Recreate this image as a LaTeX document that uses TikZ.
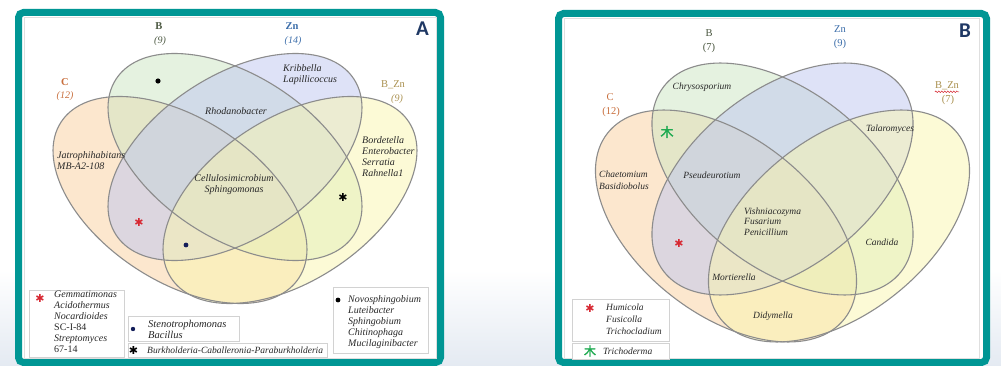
\documentclass[tikz,border=0pt]{standalone}
\usepackage{fontspec}
\setmainfont{Liberation Serif}
\newfontfamily\symf{DejaVu Sans}
\newfontfamily\lblf{Carlito}
\newfontfamily\cjkf{Noto Sans CJK SC}[FakeBold=2]
\usetikzlibrary{decorations.pathmorphing}
\definecolor{teal1}{RGB}{0,150,148}
\definecolor{navy1}{RGB}{31,56,100}
\definecolor{dotnavy}{RGB}{20,30,90}
\definecolor{cC}{RGB}{250,208,158}
\definecolor{cB}{RGB}{205,230,195}
\definecolor{cZn}{RGB}{190,198,240}
\definecolor{cBZn}{RGB}{250,246,175}
\definecolor{lC}{RGB}{200,110,60}
\definecolor{lB}{RGB}{75,88,65}
\definecolor{lZn}{RGB}{60,110,170}
\definecolor{lBZn}{RGB}{170,145,80}
\definecolor{vline}{RGB}{140,140,140}
\definecolor{txt}{RGB}{40,40,40}
\definecolor{astred}{RGB}{215,40,50}
\definecolor{trgreen}{RGB}{30,170,80}
\definecolor{bgblue}{RGB}{228,234,242}
\tikzset{
  sp/.style={font=\fontsize{10}{11}\selectfont\itshape, text=txt, inner sep=0pt, align=left},
  spb/.style={font=\fontsize{9.5}{12}\selectfont\itshape, text=txt, inner sep=0pt, align=left},
  hdr/.style={font=\fontsize{10.5}{12}\selectfont, inner sep=0pt},
  legbox/.style={draw=gray!35, fill=white, line width=0.7},
  panelbox/.style={draw=teal1, line width=7, rounded corners=5, fill=white},
  innerbox/.style={draw=gray!25, line width=0.8},
  astmark/.style={font=\symf\fontsize{11}{11}\selectfont, inner sep=0pt},
  vfill/.style={fill opacity=0.5},
  vdraw/.style={draw=vline, line width=1.1},
  plabel/.style={font=\lblf\bfseries\fontsize{21}{21}\selectfont, text=navy1, inner sep=0pt}
}
\begin{document}
\begin{tikzpicture}[x=1pt,y=-1pt]
\useasboundingbox (0,0) rectangle (1001,366);
\fill[white] (0,0) rectangle (1001,366);
\shade[top color=white, bottom color=bgblue] (0,270) rectangle (1001,366);
% panels
\path[panelbox] (18.5,12.5) rectangle (440.5,362.5);
\path[panelbox] (558.5,13.5) rectangle (986.5,362.5);
\draw[innerbox] (24,17.5) rectangle (436,358.5);
\draw[innerbox] (564,18.5) rectangle (979,358.5);
\node[plabel] (pA) at (422.5,28.5) {A};
\node[plabel] (pB) at (965,31) {B};

% ---------- Panel A Venn ----------
\fill[cC, vfill, rotate around={-33.3:(180,200)}] (180,200) ellipse [x radius=142.2, y radius=81.3];
\fill[cB, vfill, rotate around={-33.3:(235,157)}] (235,157) ellipse [x radius=142.2, y radius=81.3];
\fill[cZn, vfill, rotate around={33.3:(235,157)}] (235,157) ellipse [x radius=142.2, y radius=81.3];
\fill[cBZn, vfill, rotate around={33.3:(290,200)}] (290,200) ellipse [x radius=142.2, y radius=81.3];
\draw[vdraw, rotate around={-33.3:(180,200)}] (180,200) ellipse [x radius=142.2, y radius=81.3];
\draw[vdraw, rotate around={-33.3:(235,157)}] (235,157) ellipse [x radius=142.2, y radius=81.3];
\draw[vdraw, rotate around={33.3:(235,157)}] (235,157) ellipse [x radius=142.2, y radius=81.3];
\draw[vdraw, rotate around={33.3:(290,200)}] (290,200) ellipse [x radius=142.2, y radius=81.3];

% headers A
\node[hdr, text=lB, font=\fontsize{10.5}{12}\selectfont\bfseries] (aB) at (159,26) {B};
\node[hdr, text=lB, font=\fontsize{10}{12}\selectfont\itshape] (aBn) at (160,41) {(9)};
\node[hdr, text=lZn, font=\fontsize{10.5}{12}\selectfont\bfseries] (aZn) at (292,26) {Zn};
\node[hdr, text=lZn, font=\fontsize{10}{12}\selectfont\itshape] (aZnn) at (293,41) {(14)};
\node[hdr, text=lC, font=\fontsize{10.5}{12}\selectfont\bfseries] (aC) at (65,82) {C};
\node[hdr, text=lC, font=\fontsize{10}{12}\selectfont\itshape] (aCn) at (65,96) {(12)};
\node[hdr, text=lBZn] (aBZn) at (393,85) {B\_Zn};
\node[hdr, text=lBZn, font=\fontsize{10}{12}\selectfont\itshape] (aBZnn) at (397,99) {(9)};

% species A
\node[sp, anchor=north west] (kri) at (283,64.5) {Kribbella\\Lapillicoccus};
\node[sp] (rho) at (236,111) {Rhodanobacter};
\node[sp, anchor=north west] (jat) at (57,151.5) {Jatrophihabitans\\MB-A2-108};
\node[sp, align=center] (cel) at (234,185) {Cellulosimicrobium\\Sphingomonas};
\node[sp, anchor=north west, font=\fontsize{10}{10.8}\selectfont\itshape] (bor) at (362,136.5) {Bordetella\\Enterobacter\\Serratia\\Rahnella1};
\fill[black] (158,81) circle (2.6);
\node[astmark, text=astred] (ra1) at (139,222) {✱};
\fill[dotnavy] (186,245) circle (2.4);
\node[astmark, text=black] (ka1) at (343,197) {✱};

% legends A
\draw[legbox] (29,290) rectangle (124,357);
\node[astmark, text=astred] (ra2) at (40,298) {✱};
\node[sp, anchor=north west] (lg1) at (54,290.5) {Gemmatimonas\\Acidothermus\\Nocardioides\\\textup{SC-I-84}\\Streptomyces\\\textup{67-14}};
\draw[legbox] (128,316) rectangle (239,341);
\fill[dotnavy] (133,329) circle (2.2);
\node[sp, anchor=north west, font=\fontsize{10.5}{11}\selectfont\itshape] (lg2) at (148,320.5) {Stenotrophomonas\\Bacillus};
\draw[legbox] (128,343) rectangle (327,357);
\node[astmark, text=black] (ka2) at (133.5,350) {✱};
\node[sp, anchor=west, font=\fontsize{9.5}{11}\selectfont\itshape] (lg3) at (147,350) {Burkholderia-Caballeronia-Paraburkholderia};
\draw[legbox] (333,287) rectangle (428,353);
\fill[black] (338,300) circle (2.4);
\node[sp, anchor=north west] (lg4) at (348,295.5) {Novosphingobium\\Luteibacter\\Sphingobium\\Chitinophaga\\Mucilaginibacter};

% ---------- Panel B Venn ----------
\fill[cC, vfill, rotate around={-38:(726,226)}] (726,226) ellipse [x radius=150.5, y radius=88.5];
\fill[cB, vfill, rotate around={-38:(782.5,179)}] (782.5,179) ellipse [x radius=150.5, y radius=88.5];
\fill[cZn, vfill, rotate around={38:(782.5,179)}] (782.5,179) ellipse [x radius=150.5, y radius=88.5];
\fill[cBZn, vfill, rotate around={38:(839,226)}] (839,226) ellipse [x radius=150.5, y radius=88.5];
\draw[vdraw, rotate around={-38:(726,226)}] (726,226) ellipse [x radius=150.5, y radius=88.5];
\draw[vdraw, rotate around={-38:(782.5,179)}] (782.5,179) ellipse [x radius=150.5, y radius=88.5];
\draw[vdraw, rotate around={38:(782.5,179)}] (782.5,179) ellipse [x radius=150.5, y radius=88.5];
\draw[vdraw, rotate around={38:(839,226)}] (839,226) ellipse [x radius=150.5, y radius=88.5];

% headers B
\node[hdr, text=lB] (bB) at (709,33) {B};
\node[hdr, text=lB] (bBn) at (709,48) {(7)};
\node[hdr, text=lZn] (bZn) at (840,29) {Zn};
\node[hdr, text=lZn] (bZnn) at (840,44) {(9)};
\node[hdr, text=lC] (bC) at (610,97) {C};
\node[hdr, text=lC] (bCn) at (611,112) {(12)};
\node[hdr, text=lBZn] (bBZn) at (947,86) {B\_Zn};
\node[hdr, text=lBZn] (bBZnn) at (948,100) {(7)};
\draw[astred, line width=0.5, decorate, decoration={snake, amplitude=0.8, segment length=3}] ([yshift=-1.5]bBZn.south west) -- ([yshift=-1.5]bBZn.south east);

% species B
\node[spb] (chr) at (702,87) {Chrysosporium};
\node[spb] (tal) at (890,129) {Talaromyces};
\node[spb, anchor=north west] (cha) at (599,171) {Chaetomium\\Basidiobolus};
\node[spb] (pse) at (712,175) {Pseudeurotium};
\node[spb, anchor=north west, font=\fontsize{9.5}{10.7}\selectfont\itshape] (vis) at (744,207.5) {Vishniacozyma\\Fusarium\\Penicillium};
\node[spb] (mor) at (734,277) {Mortierella};
\node[spb] (can) at (882,242) {Candida};
\node[spb] (did) at (773,316) {Didymella};
\node[inner sep=0pt, text=trgreen, font=\cjkf\fontsize{13}{13}\selectfont] (gr1) at (667,132) {木};
\node[astmark, text=astred] (rb1) at (679,243) {✱};

% legends B
\draw[legbox] (572,299) rectangle (669,341);
\node[astmark, text=astred] (rb2) at (590,308) {✱};
\node[spb, anchor=north west] (lg5) at (606,303.5) {Humicola\\Fusicolla\\Trichocladium};
\draw[legbox] (572,343) rectangle (669,359);
\node[inner sep=0pt, text=trgreen, font=\cjkf\fontsize{12}{12}\selectfont] (gr2) at (590,351) {木};
\node[spb, anchor=west] (lg6) at (603,351) {Trichoderma};
\end{tikzpicture}
\end{document}
